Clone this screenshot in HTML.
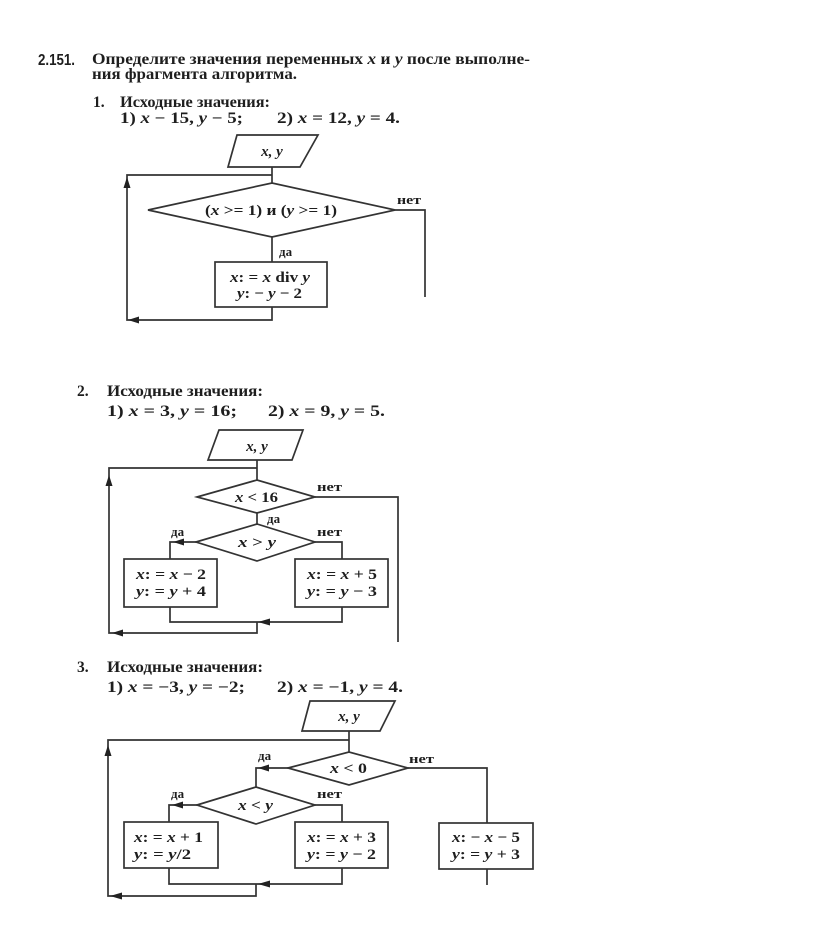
<!DOCTYPE html>
<html><head><meta charset="utf-8"><style>
html,body{margin:0;padding:0;background:#fff;}
svg{display:block;}
text{font-family:"Liberation Serif","DejaVu Serif",serif;fill:#1e1e1e;font-weight:bold;}
.s{font-family:"Liberation Sans","DejaVu Sans",sans-serif;}
.i{font-style:italic;}
.t{font-size:15.5px;}
.f{font-size:15px;}
.l{font-size:13px;}
</style></head><body>
<svg width="816" height="929" viewBox="0 0 816 929" xmlns="http://www.w3.org/2000/svg">
<rect width="816" height="929" fill="#fff"/>

<!-- Header -->
<text class="s" style="font-size:15.5px" x="38" y="65" textLength="37" lengthAdjust="spacingAndGlyphs">2.151.</text>
<text class="t" x="92" y="64" textLength="438" lengthAdjust="spacingAndGlyphs">Определите значения переменных <tspan class="i">x</tspan> и <tspan class="i">y</tspan> после выполне-</text>
<text class="t" x="92" y="79" textLength="205" lengthAdjust="spacingAndGlyphs">ния фрагмента алгоритма.</text>
<text class="t" x="93" y="107">1.</text>
<text class="t" x="120" y="107" textLength="150" lengthAdjust="spacingAndGlyphs">Исходные значения:</text>
<text class="t" x="120" y="123" textLength="123" lengthAdjust="spacingAndGlyphs">1) <tspan class="i">x</tspan> − 15, <tspan class="i">y</tspan> − 5;</text>
<text class="t" x="277" y="123" textLength="123" lengthAdjust="spacingAndGlyphs">2) <tspan class="i">x</tspan> = 12, <tspan class="i">y</tspan> = 4.</text>

<g fill="none" stroke="#333" stroke-width="1.7">
<!-- FC1 -->
<polygon points="237,135 318,135 300,167 228,167"/>
<polyline points="272,167 272,183"/>
<polyline points="272,175 127,175 127,320 272,320 272,307"/>
<polygon points="148,210 272,183 395,210 272,237"/>
<polyline points="395,210 425,210 425,297"/>
<polyline points="272,237 272,262"/>
<rect x="215" y="262" width="112" height="45"/>

<!-- FC2 -->
<polygon points="219,430 303,430 292,460 208,460"/>
<polyline points="257,460 257,480"/>
<polyline points="257,468 109,468 109,633 257,633 257,622"/>
<polygon points="197,497 257,480 315,497 257,513"/>
<polyline points="315,497 398,497 398,642"/>
<polyline points="257,513 257,524"/>
<polygon points="196,542 257,524 315,542 257,561"/>
<polyline points="196,542 170,542 170,559"/>
<polyline points="315,542 342,542 342,559"/>
<rect x="124" y="559" width="93" height="48"/>
<rect x="295" y="559" width="93" height="48"/>
<polyline points="170,607 170,622 342,622 342,607"/>

<!-- FC3 -->
<polygon points="310,701 395,701 380,731 302,731"/>
<polyline points="349,731 349,752"/>
<polyline points="349,740 108,740 108,896 256,896 256,884"/>
<polygon points="288,768 349,752 408,768 349,785"/>
<polyline points="408,768 487,768 487,823"/>
<rect x="439" y="823" width="94" height="46"/>
<polyline points="487,869 487,885"/>
<polyline points="288,768 256,768 256,787"/>
<polygon points="197,805 256,787 315,805 256,824"/>
<polyline points="197,805 169,805 169,822"/>
<polyline points="315,805 342,805 342,822"/>
<rect x="124" y="822" width="94" height="46"/>
<rect x="295" y="822" width="93" height="46"/>
<polyline points="169,868 169,884 342,884 342,868"/>
</g>

<!-- Arrowheads -->
<g fill="#222">
<polygon points="127,177 123.5,188 130.5,188"/>
<polygon points="128,320 139,316.5 139,323.5"/>
<polygon points="109,475 105.5,486 112.5,486"/>
<polygon points="173,542 184,538.5 184,545.5"/>
<polygon points="258,622 270,618.5 270,625.5"/>
<polygon points="112,633 123,629.5 123,636.5"/>
<polygon points="108,745 104.5,756 111.5,756"/>
<polygon points="258,768 269,764.5 269,771.5"/>
<polygon points="172,805 183,801.5 183,808.5"/>
<polygon points="258,884 270,880.5 270,887.5"/>
<polygon points="110,896 122,892.5 122,899.5"/>
</g>

<!-- FC1 text -->
<text class="f i" x="272" y="156" text-anchor="middle">x, y</text>
<text class="f" x="205" y="215" textLength="132" lengthAdjust="spacingAndGlyphs">(<tspan class="i">x</tspan> &gt;= 1) и (<tspan class="i">y</tspan> &gt;= 1)</text>
<text class="l" x="397" y="204" textLength="24" lengthAdjust="spacingAndGlyphs">нет</text>
<text class="l" x="279" y="256">да</text>
<text class="f" x="230" y="282" textLength="80" lengthAdjust="spacingAndGlyphs"><tspan class="i">x</tspan>: = <tspan class="i">x</tspan> div <tspan class="i">y</tspan></text>
<text class="f" x="237" y="298" textLength="65" lengthAdjust="spacingAndGlyphs"><tspan class="i">y</tspan>: − <tspan class="i">y</tspan> − 2</text>

<!-- Section 2 -->
<text class="t" x="77" y="396">2.</text>
<text class="t" x="107" y="396" textLength="156" lengthAdjust="spacingAndGlyphs">Исходные значения:</text>
<text class="t" x="107" y="416" textLength="130" lengthAdjust="spacingAndGlyphs">1) <tspan class="i">x</tspan> = 3, <tspan class="i">y</tspan> = 16;</text>
<text class="t" x="268" y="416" textLength="117" lengthAdjust="spacingAndGlyphs">2) <tspan class="i">x</tspan> = 9, <tspan class="i">y</tspan> = 5.</text>

<text class="f i" x="257" y="451" text-anchor="middle">x, y</text>
<text class="f" x="235" y="502" textLength="43" lengthAdjust="spacingAndGlyphs"><tspan class="i">x</tspan> &lt; 16</text>
<text class="l" x="317" y="491" textLength="25" lengthAdjust="spacingAndGlyphs">нет</text>
<text class="l" x="267" y="523">да</text>
<text class="f" x="238" y="547" textLength="38" lengthAdjust="spacingAndGlyphs"><tspan class="i">x</tspan> &gt; <tspan class="i">y</tspan></text>
<text class="l" x="171" y="536">да</text>
<text class="l" x="317" y="536" textLength="25" lengthAdjust="spacingAndGlyphs">нет</text>
<text class="f" x="136" y="579" textLength="70" lengthAdjust="spacingAndGlyphs"><tspan class="i">x</tspan>: = <tspan class="i">x</tspan> − 2</text>
<text class="f" x="136" y="596" textLength="70" lengthAdjust="spacingAndGlyphs"><tspan class="i">y</tspan>: = <tspan class="i">y</tspan> + 4</text>
<text class="f" x="307" y="579" textLength="70" lengthAdjust="spacingAndGlyphs"><tspan class="i">x</tspan>: = <tspan class="i">x</tspan> + 5</text>
<text class="f" x="307" y="596" textLength="70" lengthAdjust="spacingAndGlyphs"><tspan class="i">y</tspan>: = <tspan class="i">y</tspan> − 3</text>

<!-- Section 3 -->
<text class="t" x="77" y="672">3.</text>
<text class="t" x="107" y="672" textLength="156" lengthAdjust="spacingAndGlyphs">Исходные значения:</text>
<text class="t" x="107" y="692" textLength="138" lengthAdjust="spacingAndGlyphs">1) <tspan class="i">x</tspan> = −3, <tspan class="i">y</tspan> = −2;</text>
<text class="t" x="277" y="692" textLength="126" lengthAdjust="spacingAndGlyphs">2) <tspan class="i">x</tspan> = −1, <tspan class="i">y</tspan> = 4.</text>

<text class="f i" x="349" y="721" text-anchor="middle">x, y</text>
<text class="f" x="330" y="773" textLength="37" lengthAdjust="spacingAndGlyphs"><tspan class="i">x</tspan> &lt; 0</text>
<text class="l" x="409" y="763" textLength="25" lengthAdjust="spacingAndGlyphs">нет</text>
<text class="l" x="258" y="760">да</text>
<text class="f" x="238" y="810" textLength="35" lengthAdjust="spacingAndGlyphs"><tspan class="i">x</tspan> &lt; <tspan class="i">y</tspan></text>
<text class="l" x="171" y="798">да</text>
<text class="l" x="317" y="798" textLength="25" lengthAdjust="spacingAndGlyphs">нет</text>
<text class="f" x="134" y="842" textLength="69" lengthAdjust="spacingAndGlyphs"><tspan class="i">x</tspan>: = <tspan class="i">x</tspan> + 1</text>
<text class="f" x="134" y="859" textLength="57" lengthAdjust="spacingAndGlyphs"><tspan class="i">y</tspan>: = <tspan class="i">y</tspan>/2</text>
<text class="f" x="307" y="842" textLength="69" lengthAdjust="spacingAndGlyphs"><tspan class="i">x</tspan>: = <tspan class="i">x</tspan> + 3</text>
<text class="f" x="307" y="859" textLength="69" lengthAdjust="spacingAndGlyphs"><tspan class="i">y</tspan>: = <tspan class="i">y</tspan> − 2</text>
<text class="f" x="452" y="842" textLength="68" lengthAdjust="spacingAndGlyphs"><tspan class="i">x</tspan>: − <tspan class="i">x</tspan> − 5</text>
<text class="f" x="452" y="859" textLength="68" lengthAdjust="spacingAndGlyphs"><tspan class="i">y</tspan>: = <tspan class="i">y</tspan> + 3</text>
</svg>
</body></html>
